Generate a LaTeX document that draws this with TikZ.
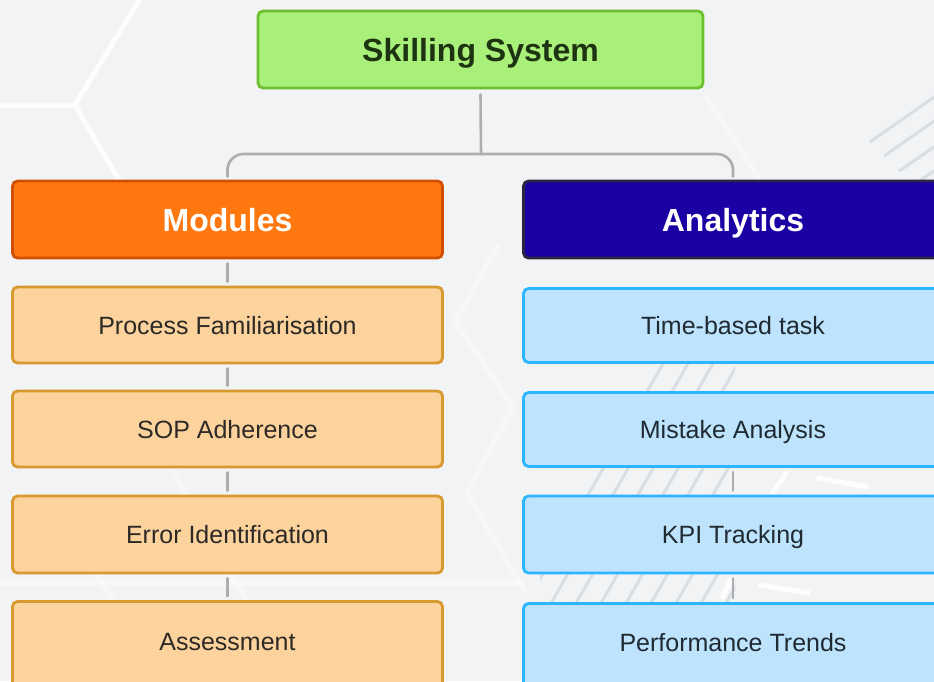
\documentclass[tikz,border=0pt]{standalone}
\usepackage{fontspec}
\setmainfont{Liberation Sans}
\definecolor{bgc}{HTML}{F1F3F5}
\definecolor{connc}{HTML}{ADADAD}
\definecolor{topfill}{HTML}{A8F07A}
\definecolor{topdraw}{HTML}{6CC02E}
\definecolor{toptext}{HTML}{1E3312}
\definecolor{modfill}{HTML}{FF780F}
\definecolor{moddraw}{HTML}{D14F00}
\definecolor{anafill}{HTML}{1C00A4}
\definecolor{anadraw}{HTML}{2B2640}
\definecolor{orfill}{HTML}{FCD29D}
\definecolor{ordraw}{HTML}{D8992E}
\definecolor{ortext}{HTML}{2D2A26}
\definecolor{blfill}{HTML}{BEE3FC}
\definecolor{bldraw}{HTML}{2DB6FF}
\definecolor{bltext}{HTML}{1F2A33}
\definecolor{hatchc}{HTML}{D8DEE4}
\begin{document}
\begin{tikzpicture}[x=1pt,y=-1pt,
  conn/.style={draw=connc, line width=2.6pt, line cap=round},
  hexl/.style={draw=white, line width=5pt, opacity=0.9},
  hexf/.style={draw=white, line width=6pt, opacity=0.4},
  hatch/.style={draw=hatchc, line width=3pt},
  box/.style={rectangle, rounded corners=5pt, line width=2.8pt, inner sep=0pt, align=center},
  headbox/.style={box, font=\bfseries\fontsize{32}{38}\selectfont, text height=23pt, text depth=0pt},
  topbox/.style={headbox, fill=topfill, draw=topdraw, text=toptext, minimum width=445pt, minimum height=77pt},
  modbox/.style={headbox, fill=modfill, draw=moddraw, text=white, minimum width=430pt, minimum height=77pt},
  anabox/.style={headbox, fill=anafill, draw=anadraw, text=white, minimum width=419pt, minimum height=77pt},
  itembox/.style={box, font=\fontsize{25}{30}\selectfont, text height=18pt, text depth=0pt},
  orbox/.style={itembox, fill=orfill, draw=ordraw, text=ortext, minimum width=430pt},
  blbox/.style={itembox, fill=blfill, draw=bldraw, text=bltext, minimum width=419pt}]
\useasboundingbox (0,0) rectangle (934,681);
\clip (0,0) rectangle (934,681);
\fill[bgc] (0,0) rectangle (934,681);
% background pattern
\draw[hexl] (-5,105) -- (75,105) -- (142,-5);
\draw[hexl] (75,105) -- (128,195);
\draw[hexf] (498,245) -- (455,322) -- (513,407) -- (467,493) -- (525,592);
\draw[hexf] (-5,583) -- (525,583);
\draw[hexf] (160,450) -- (200,515);
\draw[hexf] (95,570) -- (125,620);
\draw[hexf] (228,570) -- (258,620);
\draw[hexf] (705,95) -- (760,180);
\draw[hatch] (870,142) -- (940,93);
\draw[hatch] (884,156) -- (940,117);
\draw[hatch] (899,171) -- (940,143);
\draw[hatch] (918,182) -- (940,167);
\begin{scope}
\clip (540,360) rectangle (735,640);
\foreach \i in {0,...,9} {
  \draw[hatch] (505+25*\i,640) -- (665+25*\i,360);
}
\end{scope}
\draw[hexl] (817,478) -- (868,487);
\draw[hexl] (787,472) -- (772,494);
\draw[hexl] (758,585) -- (810,593);
\draw[hexl] (731,579) -- (722,599);
% nodes
\node[topbox] (top) at (480.5,49.5) {Skilling System};
\node[modbox] (mod) at (227.5,219.5) {Modules};
\node[anabox] (ana) at (733,219.5) {Analytics};
\node[orbox, minimum height=76pt] (pf) at (227.5,325) {Process Familiarisation};
\node[orbox, minimum height=76pt] (sop) at (227.5,429) {SOP Adherence};
\node[orbox, minimum height=77pt] (err) at (227.5,534.5) {Error Identification};
\node[orbox, minimum height=85pt] (ass) at (227.5,644) {\raisebox{3pt}{Assessment}};
\node[blbox, minimum height=74pt] (tim) at (733,325.5) {Time-based task};
\node[blbox, minimum height=74pt] (mis) at (733,429.5) {Mistake Analysis};
\node[blbox, minimum height=77pt] (kpi) at (733,534.5) {KPI Tracking};
\node[blbox, minimum height=85pt] (per) at (733,646) {\raisebox{4pt}{Performance Trends}};
% connectors
\coordinate (j) at (481,154);
\draw[conn] ([yshift=-5pt]top.south) -- (j);
\draw[conn, rounded corners=16pt] ([yshift=3pt]mod.north) |- (j) -| ([yshift=3pt]ana.north);
\draw[conn] ([yshift=-4pt]mod.south) -- ([yshift=4pt]pf.north);
\draw[conn] ([yshift=-4pt]pf.south) -- ([yshift=4pt]sop.north);
\draw[conn] ([yshift=-4pt]sop.south) -- ([yshift=4pt]err.north);
\draw[conn] ([yshift=-4pt]err.south) -- ([yshift=4pt]ass.north);
\draw[conn] ([yshift=-4pt]mis.south) -- ([yshift=4pt]kpi.north);
\draw[conn] ([yshift=-4pt]kpi.south) -- ([yshift=4pt]per.north);
\end{tikzpicture}
\end{document}
